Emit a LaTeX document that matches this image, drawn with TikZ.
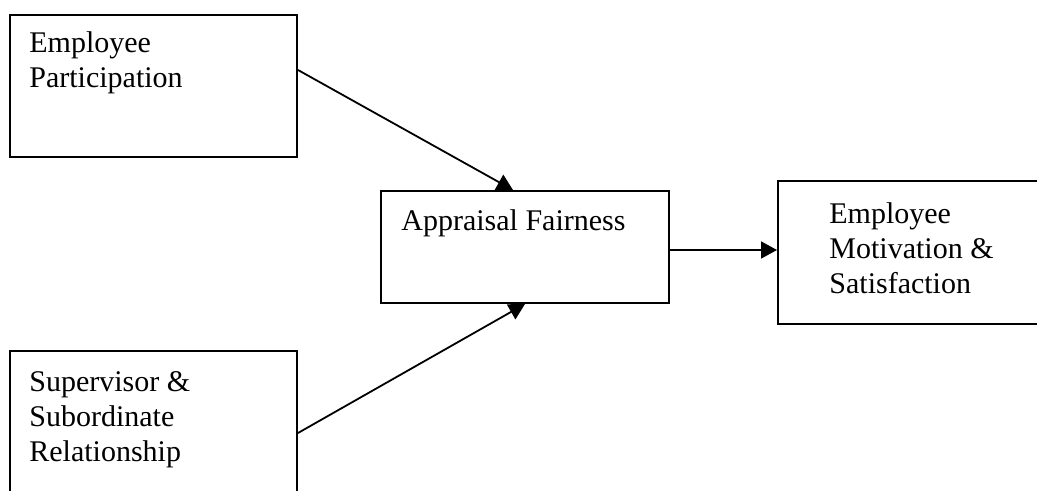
\documentclass[tikz,border=0pt]{standalone}
\usepackage{fontspec}
\setmainfont{Liberation Serif}
\usetikzlibrary{arrows.meta, positioning}
\tikzset{
    factor/.style={
        rectangle, draw=black, line width=1pt,
        inner sep=0pt, fill=white
    },
    factortext/.style={
        inner sep=0pt, align=left,
        font=\fontsize{15}{17.5}\selectfont
    },
    link/.style={draw=black, line width=0.9pt, -{Triangle[length=8pt, width=8.5pt]}}
}
\begin{document}
\begin{tikzpicture}[x=0.5pt, y=-0.5pt]
\useasboundingbox (0,0) rectangle (1037,491);
\clip (0,0) rectangle (1037,491);

% Factor boxes
\node[factor, minimum width=143.5pt, minimum height=71pt] (part) at (153.5,86) {};
\node[factor, minimum width=144pt, minimum height=56pt] (fair) at (525,247) {};
\node[factor, minimum width=133.5pt, minimum height=71.5pt] (motiv) at (911.5,252.5) {};
\node[factor, minimum width=143.5pt, minimum height=74.5pt] (super) at (153.5,425.5) {};

% Box texts
\node[factortext, below right=8.5pt and 10pt of part.north west] {Employee\\Participation};
\node[factortext, below right=9.5pt and 10.5pt of fair.north west] {Appraisal Fairness};
\node[factortext, below right=11pt and 26pt of motiv.north west] {Employee\\Motivation \&\\Satisfaction};
\node[factortext, below right=10.5pt and 10pt of super.north west] {Supervisor \&\\Subordinate\\Relationship};

% Connections
\draw[link] ([yshift=8pt]part.east) -- ([xshift=-6pt]fair.north);
\draw[link] ([yshift=-3.75pt]super.east) -- (fair.south);
\draw[link] ([yshift=-1.5pt]fair.east) -- ([yshift=-1.5pt]fair.east -| motiv.west);

\end{tikzpicture}
\end{document}
